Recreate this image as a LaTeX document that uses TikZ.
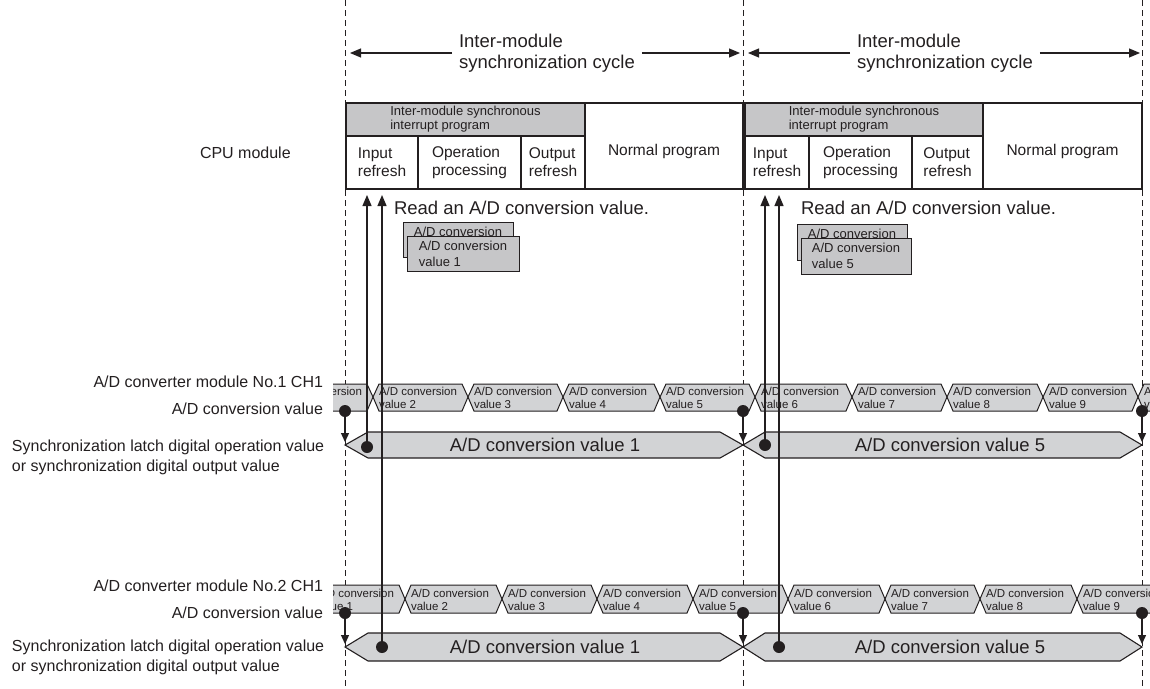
\documentclass[tikz,border=0pt]{standalone}
\usepackage{fontspec}
\setmainfont{Liberation Sans}
\usepackage{tikz}
\usetikzlibrary{arrows.meta}
\usetikzlibrary{positioning}
\definecolor{ink}{RGB}{35,31,32}
\definecolor{hdrgray}{RGB}{198,198,200}
\definecolor{cellgray}{RGB}{210,211,213}

\begin{document}
\begin{tikzpicture}
      [x=1pt,y=-1pt,
      every node/.style={inner sep=0pt,outer sep=0pt,text=ink},
      guide/.style={draw=ink,line width=0.9pt,dash pattern=on 6pt off 4pt},
      span/.style={draw=ink,line width=1.1pt,-{Triangle[length=11pt,width=9pt]}},
      rise/.style={draw=ink,line width=1.3pt,-{Triangle[length=11pt,width=9pt]}},
      drop/.style={draw=ink,line width=1.3pt,-{Triangle[length=9pt,width=8pt]},shorten >=3pt},
      prog/.style={shape=rectangle,draw=ink,line width=1.2pt,fill=white,anchor=north west,align=left,font=\fontsize{15.5}{18}\selectfont},
      head/.style={prog,fill=hdrgray,font=\fontsize{13}{14}\selectfont},
      memo/.style={shape=rectangle,draw=ink,line width=1pt,fill=hdrgray,anchor=north west,align=left,minimum height=35pt,font=\fontsize{13}{16}\selectfont},
      buscell/.style={draw=ink,line width=1pt,fill=cellgray},
      celltext/.style={anchor=west,align=left,font=\fontsize{11.5}{13}\selectfont},
      bigtext/.style={font=\fontsize{18.5}{21}\selectfont},
      lab/.style={font=\fontsize{16}{20}\selectfont},
      dot/.style={shape=circle,fill=ink,minimum size=12pt}]
\useasboundingbox (0,0) rectangle (1150,688);

% cycle borders
\foreach \g/\x in {1/345,2/743,3/1142}{
  \coordinate (gt\g) at (\x,0);
  \coordinate (gb\g) at (\x,688);
  \draw[guide] (gt\g) -- (gb\g);
}

% cycle length
\node[bigtext,align=left,anchor=west,inner xsep=7pt] (cyc1) at (452,53) {Inter-module\\synchronization cycle};
\node[bigtext,align=left,anchor=west,inner xsep=7pt] (cyc2) at (850,53) {Inter-module\\synchronization cycle};
\draw[span,shorten >=5pt] (cyc1.west) -- (gt1 |- cyc1.west);
\draw[span,shorten >=3pt] (cyc1.east) -- (gt2 |- cyc1.east);
\draw[span,shorten >=5pt] (cyc2.west) -- (gt2 |- cyc2.west);
\draw[span,shorten >=2pt] (cyc2.east) -- (gt3 |- cyc2.east);

% CPU module
\node[lab,anchor=west] (cpu) at (200,153) {CPU module};
\node[head,minimum width=239pt,minimum height=33pt] (hdr1) at (346,103) {Inter-module synchronous\\interrupt program};
\node[prog,minimum width=72pt,minimum height=53pt] (inref1) at (346,136) {Input\\refresh};
\node[prog,minimum width=103pt,minimum height=53pt] (oper1) at (inref1.north east) {Operation\\processing};
\node[prog,minimum width=64pt,minimum height=53pt] (outref1) at (oper1.north east) {Output\\refresh};
\node[prog,minimum width=158pt,minimum height=86pt,text height=23pt] (norm1) at (hdr1.north east) {Normal program};

\node[head,minimum width=238pt,minimum height=33pt] (hdr2) at (745,103) {Inter-module synchronous\\interrupt program};
\node[prog,minimum width=64pt,minimum height=53pt] (inref2) at (745,136) {Input\\refresh};
\node[prog,minimum width=103pt,minimum height=53pt] (oper2) at (inref2.north east) {Operation\\processing};
\node[prog,minimum width=71pt,minimum height=53pt] (outref2) at (oper2.north east) {Output\\refresh};
\node[prog,minimum width=159pt,minimum height=86pt,text height=23pt] (norm2) at (hdr2.north east) {Normal program};

% read values
\node[bigtext,anchor=west] (read1) at (394,208) {Read an A/D conversion value.};
\node[bigtext,anchor=west] (read2) at (801,208) {Read an A/D conversion value.};
\node[memo,minimum width=110pt] (memoA1) at (403,222) {A/D conversion\\value 1};
\node[memo,minimum width=112pt] (memoB1) at (407,236) {A/D conversion\\value 1};
\node[memo,minimum width=110pt,minimum height=36pt] (memoA2) at (797,224) {A/D conversion\\value 5};
\node[memo,minimum width=110pt,minimum height=36pt] (memoB2) at (801,238) {A/D conversion\\value 5};

% left labels
\node[lab,anchor=east] (modA) at (323,382) {A/D converter module No.1 CH1};
\node[lab,anchor=east] (valA) at (323,409) {A/D conversion value};
\node[lab,anchor=west,align=left] (syncA) at (12,457) {Synchronization latch digital operation value\\or synchronization digital output value};
\node[lab,anchor=east] (modB) at (323,586) {A/D converter module No.2 CH1};
\node[lab,anchor=east] (valB) at (323,613) {A/D conversion value};
\node[lab,anchor=west,align=left] (syncB) at (12,657) {Synchronization latch digital operation value\\or synchronization digital output value};

% conversion values
\begin{scope}
\clip (333,370) rectangle (1150,630);
\foreach \v/\xa/\xb in {1/278/373,2/373/468,3/468/563,4/563/660,5/660/755,6/755/852,7/852/947,8/947/1043,9/1043/1138,10/1138/1233}{
  \draw[buscell] (\xa,397) -- (\xa+6,384) -- (\xb-6,384) -- (\xb,397) -- (\xb-6,411) -- (\xa+6,411) -- cycle;
  \node[celltext] (cvA\v) at (\xa+6,398) {A/D conversion\\value \v};
}
\foreach \v/\xa/\xb in {1/310/405,2/405/502,3/502/597,4/597/693,5/693/788,6/788/885,7/885/980,8/980/1077,9/1077/1172}{
  \draw[buscell] (\xa,599) -- (\xa+6,585) -- (\xb-6,585) -- (\xb,599) -- (\xb-6,613) -- (\xa+6,613) -- cycle;
  \node[celltext] (cvB\v) at (\xa+6,600) {A/D conversion\\value \v};
}
\end{scope}

% latched values
\foreach \r/\ya/\ym/\yb in {1/432/445/458,2/633/647/661}{
  \draw[buscell,line width=1.1pt] (345,\ym) -- (368,\ya) -- (720,\ya) -- (743,\ym) -- (720,\yb) -- (368,\yb) -- cycle;
  \draw[buscell,line width=1.1pt] (743,\ym) -- (765,\ya) -- (1120,\ya) -- (1142,\ym) -- (1120,\yb) -- (765,\yb) -- cycle;
  \node[bigtext] (latA\r) at (545,\ym) {A/D conversion value 1};
  \node[bigtext] (latB\r) at (950,\ym) {A/D conversion value 5};
}

% latch timing
\foreach \r/\yb/\ym in {1/411/445,2/613/647}{
  \foreach \g/\x in {1/345,2/743,3/1142}{
    \node[dot] (bd\r\g) at (\x,\yb) {};
    \coordinate (lp\r\g) at (\x,\ym);
    \draw[drop] (bd\r\g.center) -- (lp\r\g);
  }
}

% reading
\foreach \n/\x/\y in {11/367/447,12/382/647,21/765/445,22/779/647}{
  \node[dot] (ld\n) at (\x,\y) {};
  \coordinate (up\n) at (\x,195);
  \draw[rise] (ld\n.center) -- (up\n);
}

\end{tikzpicture}
\end{document}
